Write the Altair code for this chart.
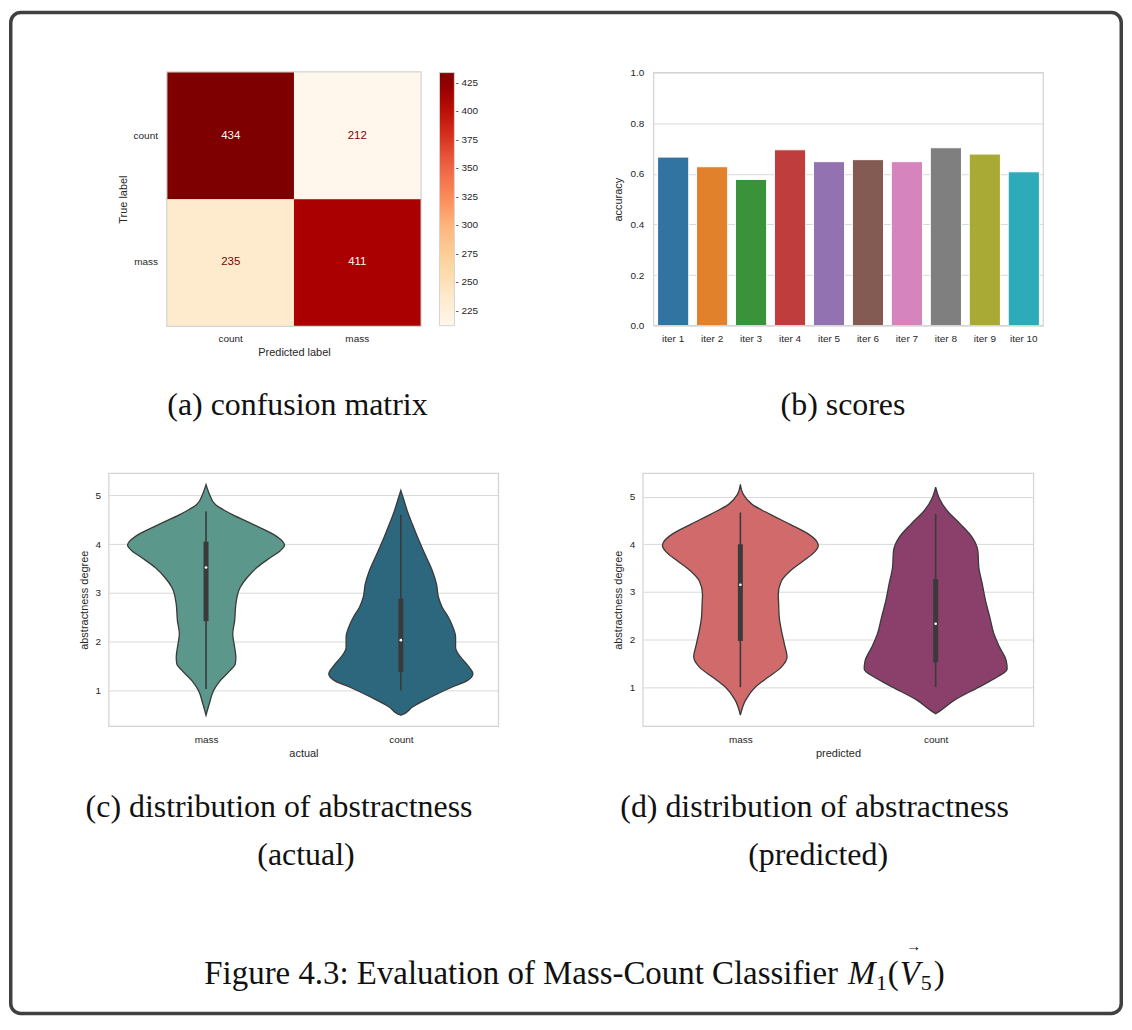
import altair as alt
import pandas as pd

# ---------------- data ----------------
# (a) confusion matrix
cm_true = ["count", "count", "mass", "mass"]
cm_pred = ["count", "mass", "count", "mass"]
cm_counts = [434, 212, 235, 411]
cm_labels = ["count", "mass"]
orrd_colors = ["#fff7ec", "#fee8c8", "#fdd49e", "#fdbb84", "#fc8d59",
               "#ef6548", "#d7301f", "#b30000", "#7f0000"]
colorbar_ticks = [225, 250, 275, 300, 325, 350, 375, 400, 425]

# (b) scores
iterations = ["iter 1", "iter 2", "iter 3", "iter 4", "iter 5",
              "iter 6", "iter 7", "iter 8", "iter 9", "iter 10"]
accuracy = [0.666, 0.628, 0.578, 0.695, 0.648, 0.656, 0.648, 0.703, 0.678, 0.608]
bar_colors = ["#3274a1", "#e1812c", "#3a923a", "#c03d3e", "#9372b2",
              "#845b53", "#d684bd", "#7f7f7f", "#a9aa35", "#2eabb8"]

# (c) violins, actual: outline as (degree, half width in category units)
c_mass_y = [5.22, 5.05, 4.81, 4.61, 4.40, 4.20, 4.06, 3.98, 3.86, 3.72, 3.52, 3.31,
            3.11, 2.77, 2.43, 2.16, 1.88, 1.68, 1.54, 1.41, 1.20, 1.00, 0.73, 0.49]
c_mass_w = [0.0, 0.015, 0.048, 0.133, 0.244, 0.346, 0.392, 0.403, 0.380, 0.329, 0.261, 0.210,
            0.175, 0.153, 0.147, 0.137, 0.147, 0.153, 0.150, 0.124, 0.073, 0.039, 0.017, 0.0]
c_count_y = [5.10, 4.95, 4.67, 4.40, 4.13, 3.79, 3.45, 3.18, 2.91, 2.70, 2.50, 2.29,
             2.09, 1.88, 1.68, 1.51, 1.34, 1.20, 1.07, 0.86, 0.66, 0.52, 0.49]
c_count_w = [0.0, 0.012, 0.034, 0.060, 0.087, 0.124, 0.162, 0.183, 0.193, 0.213, 0.244, 0.268,
             0.281, 0.281, 0.307, 0.344, 0.370, 0.341, 0.264, 0.153, 0.060, 0.017, 0.0]
# box stats: whisker low, q1, median, q3, whisker high  (mass, count)
c_box = {"lo": [1.03, 1.00], "q1": [2.42, 1.38], "med": [3.52, 2.03],
         "q3": [4.05, 2.88], "hi": [4.67, 4.60]}
c_colors = ["#5b978b", "#2c677e"]

# (d) violins, predicted
d_mass_y = [5.26, 5.05, 4.84, 4.63, 4.42, 4.22, 4.05, 3.97, 3.83, 3.65, 3.44, 3.23,
            2.95, 2.75, 2.47, 2.19, 1.91, 1.63, 1.42, 1.21, 1.00, 0.72, 0.41]
d_mass_w = [0.0, 0.015, 0.060, 0.153, 0.255, 0.347, 0.393, 0.399, 0.378, 0.322, 0.255, 0.210,
            0.194, 0.196, 0.199, 0.210, 0.225, 0.239, 0.210, 0.143, 0.077, 0.026, 0.0]
d_count_y = [5.20, 4.98, 4.70, 4.42, 4.14, 3.86, 3.51, 3.16, 2.82, 2.47, 2.12, 1.84,
             1.56, 1.38, 1.21, 1.00, 0.72, 0.51, 0.44]
d_count_w = [0.0, 0.017, 0.060, 0.128, 0.188, 0.216, 0.221, 0.239, 0.255, 0.277, 0.298, 0.327,
             0.361, 0.366, 0.315, 0.221, 0.094, 0.026, 0.0]
d_box = {"lo": [1.00, 1.00], "q1": [1.97, 1.52], "med": [3.15, 2.33],
         "q3": [4.00, 3.27], "hi": [4.67, 4.64]}
d_colors = ["#d06a6b", "#8b3f6b"]

cap_a = "(a) confusion matrix"
cap_b = "(b) scores"
cap_c = ["(c) distribution of abstractness", "(actual)"]
cap_d = ["(d) distribution of abstractness", "(predicted)"]
fig_caption = "Figure 4.3: Evaluation of Mass-Count Classifier"

# ---------------- styling ----------------
SANS = "Liberation Sans"
SERIF = "Liberation Serif"
INK = "#262626"
GRID = "#d9d9d9"
SPINE = "#d4d4d4"
EDGE = "#3a3a3a"
H = 254


def text_layer(txt, x, y, size=32, style="normal", align="center"):
    return alt.Chart(pd.DataFrame({"t": [txt]})).mark_text(
        font=SERIF, fontSize=size, fontStyle=style, align=align,
        baseline="alphabetic", color="#111111"
    ).encode(text="t:N", x=alt.value(x), y=alt.value(y))


def frame_layer(x0, x1, width=1.25):
    return alt.Chart(pd.DataFrame({"k": [0]})).mark_rect(
        fillOpacity=0, stroke=SPINE, strokeWidth=width
    ).encode(x=alt.value(x0), x2=alt.value(x1), y=alt.value(0), y2=alt.value(H))


# ---------------- (a) confusion matrix ----------------
cm_df = pd.DataFrame({"true": cm_true, "pred": cm_pred, "n": cm_counts})
lo_, hi_ = min(cm_counts), max(cm_counts)
stops = [lo_ + k * (hi_ - lo_) / 8 for k in range(9)]
xs_a = alt.Scale(domain=cm_labels, range=[59, 313], paddingInner=0, paddingOuter=0)
ys_a = alt.Scale(domain=cm_labels, paddingInner=0, paddingOuter=0)
xax_a = alt.Axis(title="Predicted label", labelPadding=8, titlePadding=3, labelAngle=0)
yax_a = alt.Axis(title="True label", offset=-59, labelPadding=10, titlePadding=5)
base_a = alt.Chart(cm_df).encode(
    x=alt.X("pred:N", scale=xs_a, axis=xax_a),
    y=alt.Y("true:N", scale=ys_a, axis=yax_a),
)
frame_a = base_a.mark_rect(fillOpacity=0, stroke=SPINE, strokeWidth=2.5)
cells_a = base_a.mark_rect(strokeWidth=0).encode(
    color=alt.Color(
        "n:Q", title="",
        scale=alt.Scale(domain=stops, range=orrd_colors),
        legend=alt.Legend(
            orient="none", legendX=332, legendY=0, direction="vertical",
            gradientLength=H, gradientThickness=15, values=colorbar_ticks,
            gradientStrokeColor=SPINE, gradientStrokeWidth=1,
            labelFont=SANS, labelFontSize=10, labelColor=INK, labelOffset=1,
            labelExpr="'-  ' + datum.label",
            labelOverlap=False, padding=0, titlePadding=0,
        ),
    )
)
nums_a = base_a.mark_text(font=SANS, fontSize=11.5).encode(
    text="n:Q",
    color=alt.condition(alt.datum.n > (lo_ + hi_) / 2, alt.value("#fff7ec"), alt.value("#7f0000")),
)
panel_a = alt.layer(
    frame_a, cells_a, nums_a, text_layer(cap_a, 189.5, 344)
).properties(width=391, height=H, view=alt.ViewBackground(stroke="transparent"))

# ---------------- (b) scores ----------------
bar_df = pd.DataFrame({"iter": iterations, "acc": accuracy})
bars_b = alt.Chart(bar_df).mark_bar(stroke="white", strokeWidth=1).encode(
    x=alt.X("iter:N", sort=iterations, title="",
            scale=alt.Scale(range=[11, 402], paddingInner=0.2, paddingOuter=0.1),
            axis=alt.Axis(labelAngle=0, labelPadding=8, grid=False)),
    y=alt.Y("acc:Q", title="accuracy",
            scale=alt.Scale(domain=[0, 1], nice=False),
            axis=alt.Axis(values=[0, 0.2, 0.4, 0.6, 0.8, 1.0], format=".1f", offset=-11,
                          grid=True, labelPadding=10, titlePadding=6)),
    color=alt.Color("iter:N", sort=iterations,
                    scale=alt.Scale(domain=iterations, range=bar_colors), legend=None),
)
panel_b = alt.layer(
    bars_b, frame_layer(11, 402), text_layer(cap_b, 201, 344)
).properties(width=391, height=H, view=alt.ViewBackground(stroke="transparent"))


# ---------------- (c), (d) violins ----------------
def violin_panel(outlines, box, colors, xtitle, ydom, width, extra):
    xs = alt.Scale(domain=[-0.5, 1.5], nice=False, zero=False)
    ys = alt.Scale(domain=ydom, nice=False, zero=False)
    xax = alt.Axis(values=[0, 1], labelExpr="datum.value == 0 ? 'mass' : 'count'",
                   grid=False, labelPadding=8, titlePadding=3)
    yax = alt.Axis(values=[1, 2, 3, 4, 5], format="d", grid=True,
                   labelPadding=8, titlePadding=6)
    ytitle = "abstractness degree"
    layers = []
    for i, (yv, wv) in enumerate(outlines):
        df = pd.DataFrame({"y": yv, "w": wv, "pos": [i] * len(yv)})
        layers.append(
            alt.Chart(df).transform_calculate(
                x0="datum.pos - datum.w", x1="datum.pos + datum.w"
            ).mark_area(
                orient="horizontal", interpolate="monotone", fill=colors[i],
                stroke=EDGE, strokeWidth=1.3, fillOpacity=1
            ).encode(
                y=alt.Y("y:Q", scale=ys, axis=yax, title=ytitle),
                x=alt.X("x0:Q", scale=xs, axis=xax, title=xtitle),
                x2="x1:Q",
            )
        )
    bdf = pd.DataFrame({"pos": [0, 1], **box})
    bx = alt.X("pos:Q", scale=xs, axis=xax, title=xtitle)
    whisk = alt.Chart(bdf).mark_rule(color=EDGE, strokeWidth=1.6).encode(
        x=bx, y=alt.Y("lo:Q", scale=ys, axis=yax, title=ytitle), y2="hi:Q")
    boxr = alt.Chart(bdf).mark_rule(color=EDGE, strokeWidth=5).encode(
        x=bx, y=alt.Y("q1:Q", scale=ys, axis=yax, title=ytitle), y2="q3:Q")
    med = alt.Chart(bdf).mark_circle(color="white", size=7, opacity=1).encode(
        x=bx, y=alt.Y("med:Q", scale=ys, axis=yax, title=ytitle))
    return alt.layer(*layers, whisk, boxr, med, *extra).properties(width=width, height=H)


# page border (relative to panel (c) origin)
border = alt.Chart(pd.DataFrame({"k": [0]})).mark_rect(
    fillOpacity=0, stroke="#404040", strokeWidth=3.5, cornerRadius=10
).encode(x=alt.value(-98.25), x2=alt.value(1016.25), y=alt.value(-462.25), y2=alt.value(542.25))

fig_cap_layers = [
    text_layer(fig_caption, 732, 513, size=33, align="right"),
    text_layer("M", 742, 513, size=33, style="italic", align="left"),
    text_layer("1", 770, 519, size=22, align="left"),
    text_layer("(", 782, 513, size=33, align="left"),
    text_layer("V", 794, 513, size=33, style="italic", align="left"),
    text_layer("\u2192", 808, 480, size=15, align="center"),
    text_layer("5", 815, 519, size=22, align="left"),
    text_layer(")", 828, 513, size=33, align="left"),
]

panel_c = violin_panel(
    [(c_mass_y, c_mass_w), (c_count_y, c_count_w)], c_box, c_colors, "actual",
    [0.265, 5.455], 391,
    [text_layer(cap_c[0], 171, 345), text_layer(cap_c[1], 198, 393), border] + fig_cap_layers,
)
panel_d = violin_panel(
    [(d_mass_y, d_mass_w), (d_count_y, d_count_w)], d_box, d_colors, "predicted",
    [0.177, 5.496], 392,
    [text_layer(cap_d[0], 172.5, 345), text_layer(cap_d[1], 176, 393)],
)

chart = alt.concat(
    panel_a, panel_b, panel_c, panel_d, columns=2,
    spacing=alt.RowColnumber(row=148, column=145), bounds="flush",
).properties(
    padding=0, background="white"
).configure_view(
    stroke=SPINE, strokeWidth=1.25
).configure_axis(
    labelFont=SANS, titleFont=SANS, labelFontSize=10, titleFontSize=11,
    titleFontWeight="normal", labelColor=INK, titleColor=INK,
    ticks=False, tickSize=0, domain=False, gridColor=GRID, gridWidth=1,
)

chart.save("out.html", embed_options={"renderer": "svg", "actions": False})
